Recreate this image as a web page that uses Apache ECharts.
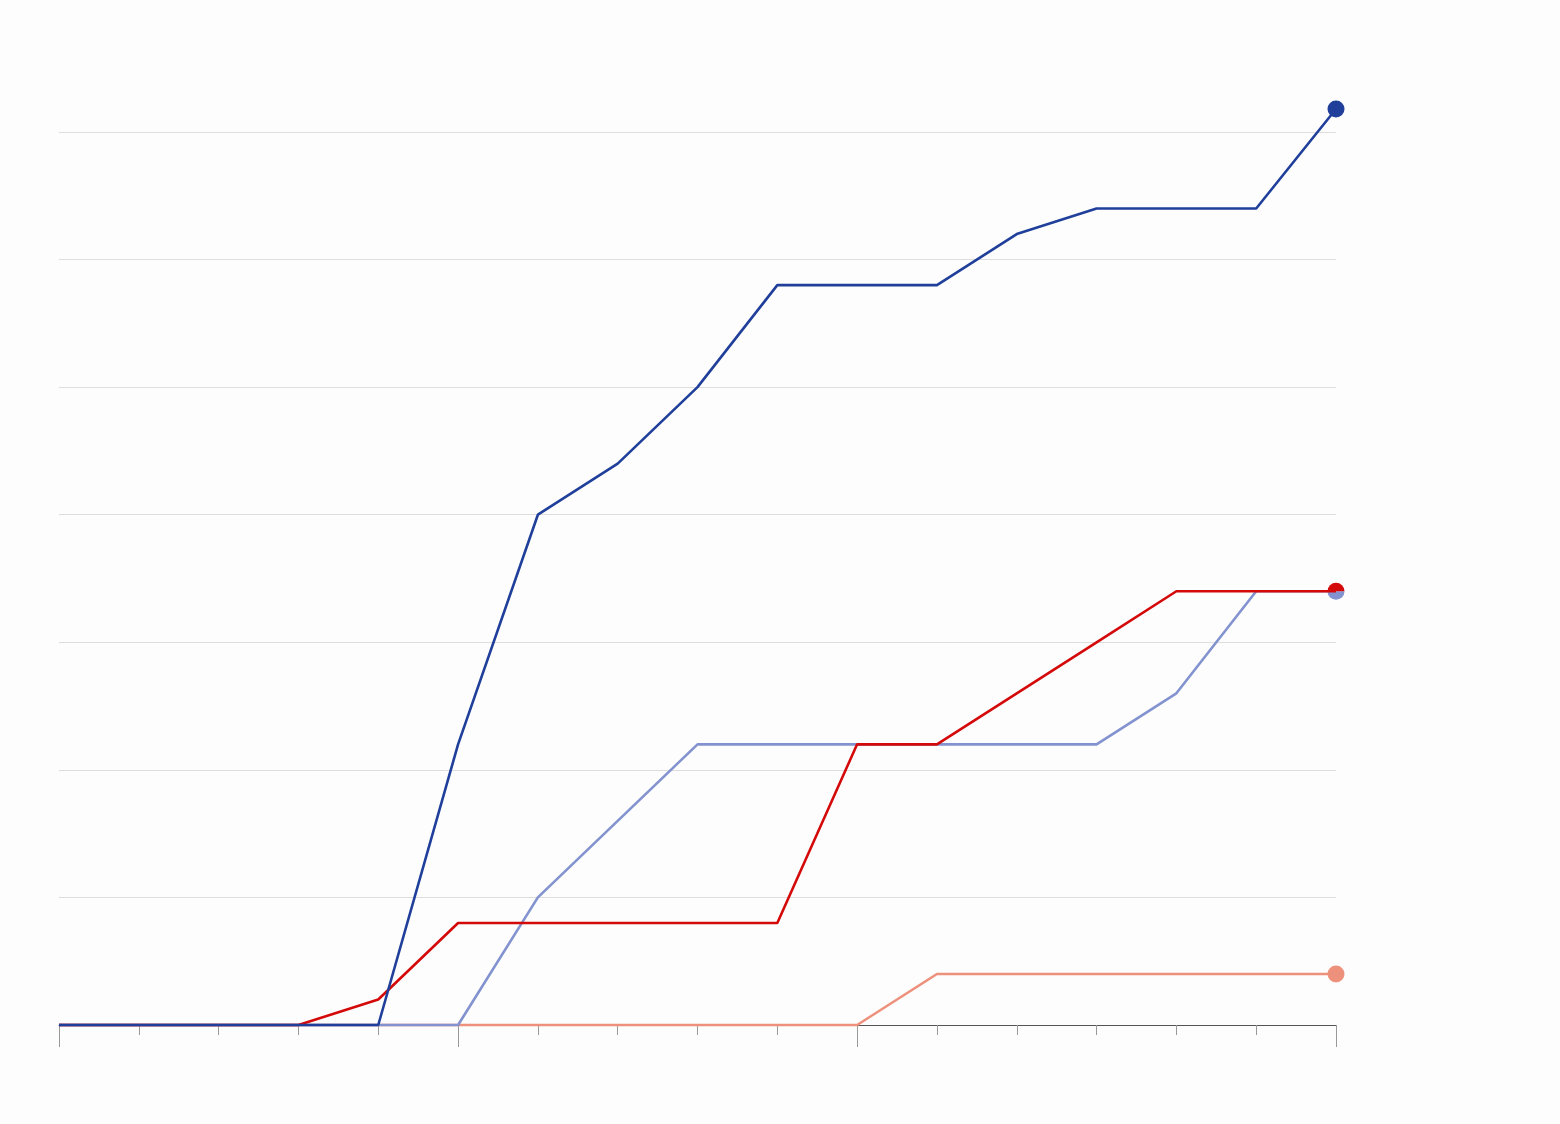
<!DOCTYPE html>
<html>
<head>
<meta charset="utf-8">
<script src="https://cdn.jsdelivr.net/npm/echarts@6/dist/echarts.min.js"></script>
<style>
html,body{margin:0;padding:0;background:#fdfdfd;}
#chart{width:1560px;height:1124px;}
</style>
</head>
<body>
<div id="chart"></div>
<script>
// 17 time steps along the x axis (no labels shown in the reference)
const categories = ['0','1','2','3','4','5','6','7','8','9','10','11','12','13','14','15','16'];
const majorTickIdx = [0, 5, 10, 16];

const darkBlue  = [0, 0, 0, 0, 0, 11, 20, 22, 25, 29, 29, 29, 31, 32, 32, 32, 35.9];
const red       = [0, 0, 0, 0, 1, 4, 4, 4, 4, 4, 11, 11, 13, 15, 17, 17, 17];
const lightBlue = [0, 0, 0, 0, 0, 0, 5, 8, 11, 11, 11, 11, 11, 11, 13, 17, 17];
const salmon    = [0, 0, 0, 0, 0, 0, 0, 0, 0, 0, 0, 2, 2, 2, 2, 2, 2];

const FULL = 'circle';
const TOP_HALF = 'path://M0,10 A10,10 0 0 1 20,10 Z';
const BOTTOM_HALF = 'path://M0,0 A10,10 0 0 0 20,0 Z';

function withEndDot(arr, symbol, size, offset) {
  return arr.map((v, i) => i === arr.length - 1
    ? { value: v, symbol: symbol, symbolSize: size, symbolOffset: offset, symbolKeepAspect: false }
    : { value: v, symbolSize: 0 });
}

function lineSeries(name, arr, color, z, symbol, size, offset) {
  return {
    name: name,
    type: 'line',
    data: withEndDot(arr, symbol, size, offset),
    symbol: 'circle',
    showSymbol: true,
    clip: false,
    z: z,
    lineStyle: { color: color, width: 2.6 },
    itemStyle: { color: color },
    emphasis: { disabled: true },
    animation: false
  };
}

const chart = echarts.init(document.getElementById('chart'));
chart.setOption({
  backgroundColor: '#fdfdfd',
  animation: false,
  grid: { left: 59, right: 224, top: 132, bottom: 99 },
  xAxis: [
    {
      type: 'category',
      data: categories,
      boundaryGap: false,
      axisLine: { show: true, lineStyle: { color: '#555', width: 1 } },
      axisTick: { show: true, length: 10, lineStyle: { color: '#999', width: 1 } },
      axisLabel: { show: false },
      splitLine: { show: false }
    },
    {
      type: 'category',
      data: categories,
      boundaryGap: false,
      position: 'bottom',
      axisLine: { show: false },
      axisTick: {
        show: true, length: 22,
        interval: (idx) => majorTickIdx.includes(idx),
        lineStyle: { color: '#999', width: 1 }
      },
      axisLabel: { show: false },
      splitLine: { show: false }
    }
  ],
  yAxis: {
    type: 'value',
    min: 0, max: 35, interval: 5,
    axisLine: { show: false },
    axisTick: { show: false },
    axisLabel: { show: false },
    splitLine: { lineStyle: { color: '#dddddd', width: 1 } }
  },
  series: [
    lineSeries('salmon', salmon, '#ee917c', 2, FULL, 17, [0, 0]),
    lineSeries('lightBlue', lightBlue, '#8393cf', 3, BOTTOM_HALF, [17, 8.5], [0, 4.25]),
    lineSeries('red', red, '#d40a0a', 4, TOP_HALF, [17, 8.5], [0, -4.25]),
    lineSeries('darkBlue', darkBlue, '#1f3f9b', 5, FULL, 17, [0, 0])
  ]
});
</script>
</body>
</html>
